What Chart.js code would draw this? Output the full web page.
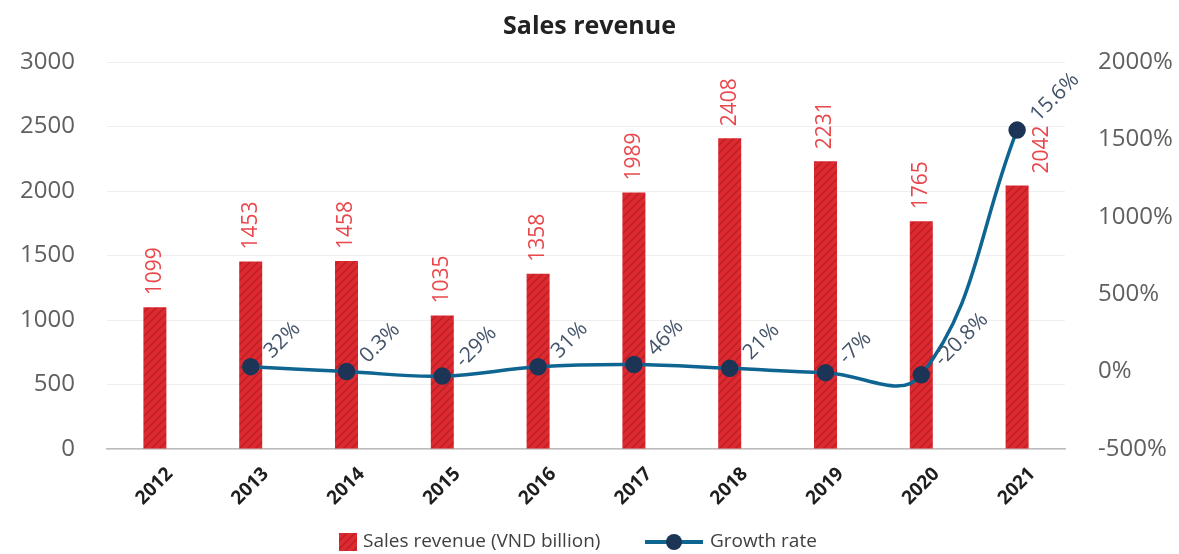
<!DOCTYPE html>
<html>
<head>
<meta charset="utf-8">
<script src="https://cdn.jsdelivr.net/npm/chart.js@4.4.0/dist/chart.umd.min.js"></script>
<style>
  html, body { margin: 0; padding: 0; background: #fff; }
  #wrap { width: 1179px; height: 554px; }
</style>
</head>
<body>
<div id="wrap"><canvas id="myChart" width="1179" height="554"></canvas></div>
<script>
  'use strict'

  var years = ['2012', '2013', '2014', '2015', '2016', '2017', '2018', '2019', '2020', '2021']
  var revenue = [1099, 1453, 1458, 1035, 1358, 1989, 2408, 2231, 1765, 2042]
  // growth in %, the last point is plotted as drawn (around 1560)
  var growth = [null, 32, 0.3, -29, 31, 46, 21, -7, -20.8, 1560]
  var growthLabels = ['', '32%', '0.3%', '-29%', '31%', '46%', '21%', '-7%', '-20.8%', '15.6%']

  var FONT = "'Open Sans', 'Noto Sans', sans-serif"

  // hatched red fill
  function makeHatch () {
    var c = document.createElement('canvas')
    c.width = 8
    c.height = 8
    var g = c.getContext('2d')
    g.fillStyle = '#dc2a30'
    g.fillRect(0, 0, 8, 8)
    g.strokeStyle = '#be1f26'
    g.lineWidth = 1.5
    g.beginPath()
    g.moveTo(-2, 10); g.lineTo(10, -2)
    g.moveTo(-2, 2); g.lineTo(2, -2)
    g.moveTo(6, 10); g.lineTo(10, 6)
    g.stroke()
    return c
  }
  var hatch = document.createElement('canvas').getContext('2d').createPattern(makeHatch(), 'repeat')

  var labelsPlugin = {
    id: 'valueLabels',
    afterDatasetsDraw: function (chart) {
      var ctx = chart.ctx
      var bars = chart.getDatasetMeta(0).data
      var pts = chart.getDatasetMeta(1).data
      ctx.save()
      // bar values, rotated
      ctx.font = '21px ' + FONT
      ctx.fillStyle = '#e8474c'
      ctx.textAlign = 'left'
      ctx.textBaseline = 'middle'
      bars.forEach(function (b, i) {
        var x = b.x
        if (i === bars.length - 1) x += 25
        ctx.save()
        ctx.translate(x, b.y - 12)
        ctx.rotate(-Math.PI / 2)
        ctx.fillText(String(revenue[i]), 0, 0)
        ctx.restore()
      })
      // growth labels, 45 degrees
      ctx.fillStyle = '#44546a'
      pts.forEach(function (p, i) {
        if (!growthLabels[i] || growth[i] === null) return
        ctx.save()
        ctx.translate(p.x + 17, p.y - 12)
        ctx.rotate(-Math.PI / 4)
        ctx.fillText(growthLabels[i], 0, 0)
        ctx.restore()
      })
      // x category labels
      var xs = chart.scales.x
      ctx.fillStyle = '#1e1e1e'
      ctx.font = 'bold 19px ' + FONT
      ctx.textAlign = 'right'
      years.forEach(function (yr, i) {
        ctx.save()
        ctx.translate(xs.getPixelForValue(i) + 15, xs.top + 22)
        ctx.rotate(-Math.PI / 4)
        ctx.fillText(yr, 0, 0)
        ctx.restore()
      })
      ctx.restore()
    },
    afterDraw: function (chart) {
      // legend at bottom
      var ctx = chart.ctx
      var y = 542
      ctx.save()
      ctx.font = '19px ' + FONT
      ctx.textBaseline = 'middle'
      ctx.textAlign = 'left'
      ctx.fillStyle = hatch
      ctx.fillRect(339, y - 9, 18, 18)
      ctx.fillStyle = '#404040'
      ctx.fillText('Sales revenue (VND billion)', 363, y)
      ctx.strokeStyle = '#0e6591'
      ctx.lineWidth = 4
      ctx.beginPath()
      ctx.moveTo(645, y); ctx.lineTo(703, y)
      ctx.stroke()
      ctx.fillStyle = '#1c3557'
      ctx.beginPath()
      ctx.arc(674, y, 8, 0, Math.PI * 2)
      ctx.fill()
      ctx.fillStyle = '#404040'
      ctx.fillText('Growth rate', 710, y)
      ctx.restore()
    }
  }

  var ctx = document.getElementById('myChart')
  // eslint-disable-next-line no-unused-vars
  var myChart = new Chart(ctx, {
    data: {
      labels: years,
      datasets: [{
        type: 'bar',
        label: 'Sales revenue (VND billion)',
        data: revenue,
        backgroundColor: hatch,
        borderWidth: 0,
        barPercentage: 0.24,
        categoryPercentage: 1,
        yAxisID: 'y',
        order: 2
      }, {
        type: 'line',
        label: 'Growth rate',
        data: growth,
        borderColor: '#0e6591',
        borderWidth: 3.5,
        pointBackgroundColor: '#1c3557',
        pointBorderColor: '#1c3557',
        pointRadius: 7,
        tension: 0.4,
        yAxisID: 'y1',
        order: 1
      }]
    },
    options: {
      responsive: false,
      animation: false,
      layout: { padding: 0 },
      plugins: {
        legend: { display: false },
        tooltip: { enabled: false },
        title: {
          display: true,
          text: 'Sales revenue',
          color: '#222',
          font: { family: FONT, size: 25, weight: 'bold' },
          padding: { top: 12, bottom: 20 }
        }
      },
      scales: {
        x: {
          afterFit: function (s) { s.height = 105 },
          grid: { display: false, drawTicks: false },
          border: { color: '#bcbcbc', width: 1.5 },
          ticks: { display: false }
        },
        y: {
          position: 'left',
          min: 0,
          max: 3000,
          afterFit: function (s) { s.width = 107 },
          grid: { color: '#efefef', lineWidth: 1, drawTicks: false },
          border: { display: false },
          ticks: {
            stepSize: 500,
            color: '#606060',
            padding: 32,
            font: { family: FONT, size: 24 },
            callback: function (v) { return String(v) }
          }
        },
        y1: {
          position: 'right',
          min: -500,
          max: 2000,
          afterFit: function (s) { s.width = 114 },
          grid: { display: false, drawTicks: false },
          border: { display: false },
          ticks: {
            stepSize: 500,
            color: '#606060',
            padding: 33,
            font: { family: FONT, size: 24 },
            callback: function (v) { return v + '%' }
          }
        }
      }
    },
    plugins: [labelsPlugin]
  })
</script>
</body>
</html>
